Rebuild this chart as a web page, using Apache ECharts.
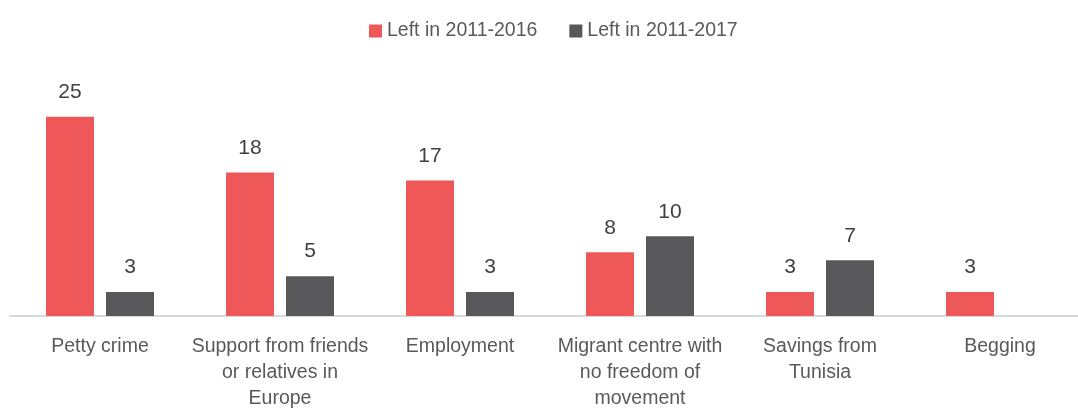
<!DOCTYPE html>
<html>
<head>
<meta charset="utf-8">
<script src="https://cdn.jsdelivr.net/npm/echarts@6/dist/echarts.min.js"></script>
<style>
html,body{margin:0;padding:0;background:#fff;overflow:hidden;width:1078px;height:412px;}
#chart{width:1090px;height:412px;}
</style>
</head>
<body>
<div id="chart"></div>
<script>
const categories = [
  "Petty crime",
  "Support from friends\nor relatives in\nEurope",
  "Employment",
  "Migrant centre with\nno freedom of\nmovement",
  "Savings from\nTunisia",
  "Begging"
];
const seriesNames = ["Left in 2011-2016", "Left in 2011-2017"];
const left2016 = [25, 18, 17, 8, 3, 3];
const left2017 = [3, 5, 3, 10, 7, null];

const FONT = "'Liberation Sans', Arial, sans-serif";
const chart = echarts.init(document.getElementById('chart'), null, {renderer: 'canvas'});
const labelCfg = {
  show: true, position: 'top', distance: 14,
  color: '#404040', fontSize: 21, fontFamily: FONT
};
chart.setOption({
  animation: false,
  legend: {
    left: 364, top: 16,
    itemWidth: 13, itemHeight: 13, itemGap: 32,
    icon: 'rect',
    textStyle: {color: '#595959', fontSize: 19.5, fontFamily: FONT},
    data: seriesNames
  },
  grid: {left: 10, right: 0, top: 77, bottom: 94, containLabel: false},
  xAxis: {
    type: 'category',
    data: categories,
    axisLine: {lineStyle: {color: '#D9D9D9', width: 2}},
    axisTick: {show: false},
    axisLabel: {
      color: '#595959', fontSize: 19.5, fontFamily: FONT,
      lineHeight: 26, margin: 18, interval: 0
    }
  },
  yAxis: {
    type: 'value', min: 0, max: 30,
    show: false,
    splitLine: {show: false}
  },
  series: [
    {
      name: seriesNames[0], type: 'bar', data: left2016,
      barWidth: 48, barGap: '25%',
      itemStyle: {color: '#EE5859'},
      label: labelCfg
    },
    {
      name: seriesNames[1], type: 'bar', data: left2017,
      barWidth: 48,
      itemStyle: {color: '#58585A'},
      label: labelCfg
    }
  ]
});
</script>
</body>
</html>
